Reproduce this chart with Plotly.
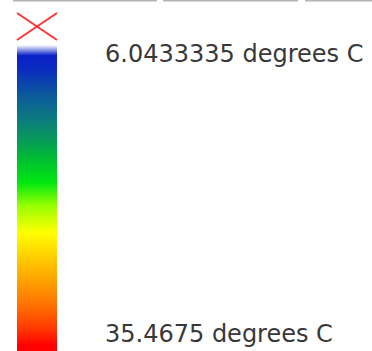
import plotly.graph_objects as go

# Temperature range shown by the legend
t_min = 6.0433335
t_max = 35.4675
unit = "degrees C"

# Colour ramp for the legend bar (cold at top, hot at bottom)
ramp_pos = [0.0, 0.033, 0.075, 0.163, 0.239, 0.31, 0.376, 0.448, 0.523,
            0.611, 0.696, 0.784, 0.866, 0.931, 0.98, 1.0]
ramp_col = ["#f2f4fd", "#0a22c8", "#0a2ac0", "#0b5a9c", "#0c7a80", "#069a58",
            "#00c030", "#00e810", "#96ff00", "#ffff00", "#ffcc00", "#ff9900",
            "#ff6600", "#ff3300", "#ff0000", "#ff0000"]

W, H = 372, 351
bar_left, bar_right, bar_top = 17, 57, 45

fig = go.Figure()
fig.add_trace(go.Heatmap(
    z=[[t_min, t_min], [t_max, t_max]],
    x=[0, 1], y=[0, 1],
    zmin=t_min, zmax=t_max,
    colorscale=[[p, c] for p, c in zip(ramp_pos, ramp_col)],
    zsmooth="best", showscale=False, hoverinfo="skip",
))

fig.update_layout(
    width=W, height=H,
    margin=dict(l=0, r=0, t=0, b=0),
    paper_bgcolor="white", plot_bgcolor="white",
    showlegend=False,
    xaxis=dict(domain=[bar_left / W, bar_right / W], range=[0, 1],
               visible=False, fixedrange=True),
    yaxis=dict(domain=[0, 1 - bar_top / H], range=[1, 0],
               visible=False, fixedrange=True),
)

# Header separators along the top edge
for x0, x1 in [(13, 157), (163, 298), (305, 372)]:
    fig.add_shape(type="line", xref="paper", yref="paper",
                  x0=x0 / W, x1=x1 / W, y0=1 - 0.8 / H, y1=1 - 0.8 / H,
                  line=dict(color="#b4b4b4", width=1.5))

# "No data" cross above the bar
for (x0, y0, x1, y1) in [(17, 13, 57, 40), (17, 40, 57, 13)]:
    fig.add_shape(type="line", xref="paper", yref="paper",
                  x0=x0 / W, x1=x1 / W, y0=1 - y0 / H, y1=1 - y1 / H,
                  line=dict(color="rgba(255,30,30,0.9)", width=2))

# Range labels
label_font = dict(family="DejaVu Sans", size=24, color="#383838")
for val, yc in [(t_min, 54), (t_max, 334)]:
    fig.add_annotation(text=f"{val} {unit}",
                       xref="paper", yref="paper",
                       x=103 / W, y=1 - yc / H,
                       xanchor="left", yanchor="middle",
                       showarrow=False, font=label_font)

fig.write_html("out.html")
